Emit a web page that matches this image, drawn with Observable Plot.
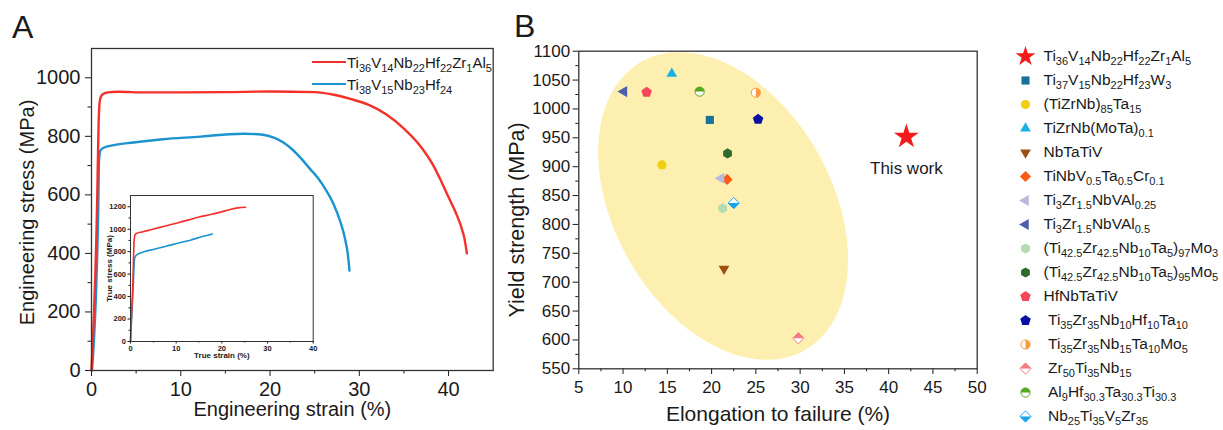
<!DOCTYPE html>
<html>
<head>
<meta charset="utf-8">
<script src="https://cdn.jsdelivr.net/npm/d3@7"></script>
<script src="https://cdn.jsdelivr.net/npm/@observablehq/plot@0.6"></script>
<style>
html,body{margin:0;padding:0;background:#fff;}
#wrap{position:relative;width:1223px;height:430px;overflow:hidden;font-family:"Liberation Sans",Arial,Helvetica,sans-serif;color:#1a1a1a;}
.panel{position:absolute;font-size:32px;line-height:32px;}
#legA{position:absolute;left:312px;top:51px;font-size:15px;color:#1a1a1a;}
#legA .row{height:22px;display:flex;align-items:center;white-space:nowrap;}
#legA .sw{display:inline-block;width:34px;height:0;border-top:2.4px solid;margin-right:1px;}
#legA sub{font-size:11px;vertical-align:-4px;line-height:0;}
</style>
</head>
<body>
<div id="wrap"></div>
<script>
const FONT = '"Liberation Sans", Arial, Helvetica, sans-serif';
const INK = "#1a1a1a";
const RED = "#f5302a";
const BLUE = "#1b93cf";

// ---------- Panel A: engineering stress-strain ----------
const seriesA = ["Ti_36V_14Nb_22Hf_22Zr_1Al_5", "Ti_38V_15Nb_23Hf_24"];
const redStrain = [0, 0.63, 0.8, 0.95, 1.2, 1.8, 3, 6, 10, 15, 20, 25, 27, 29, 31, 33, 35, 37, 38.3, 39.2, 40, 40.8, 41.4, 41.8, 42.05];
const redStress = [0, 570, 850, 925, 942, 950, 952, 950, 950, 951, 953, 951, 943, 928, 908, 875, 826, 760, 700, 645, 592, 540, 492, 448, 400];
const blueStrain = [0.05, 0.75, 0.85, 1.0, 1.3, 2.5, 4.7, 8, 12.2, 15, 17, 19, 20.5, 21.5, 22.5, 23.4, 24.5, 25.3, 26.2, 27.1, 27.8, 28.4, 28.7, 28.9];
const blueStress = [0, 540, 720, 752, 760, 770, 779, 790, 799, 806, 809, 806, 795, 779, 755, 727, 688, 660, 620, 570, 515, 450, 400, 341];
const xMajorA = [0, 10, 20, 30, 40];
const xMinorA = [5, 15, 25, 35];
const yMajorA = [0, 200, 400, 600, 800, 1000];
const yMinorA = [100, 300, 500, 700, 900];

// ---------- Inset: true stress-strain ----------
const redTrueStrain = [0, 0.5, 0.8, 1.0, 1.5, 2.5, 4.4, 7, 10.2, 13, 15, 17.5, 19.7, 22, 23.5, 25.2];
const redTrueStress = [0, 500, 900, 950, 965, 975, 995, 1022, 1055, 1085, 1108, 1130, 1152, 1178, 1190, 1195];
const blueTrueStrain = [0, 0.6, 0.9, 1.2, 2, 3, 5, 8, 10.5, 13.1, 15.5, 17.9];
const blueTrueStress = [0, 500, 740, 765, 785, 800, 820, 850, 877, 902, 932, 958];
const xMajorI = [0, 10, 20, 30, 40];
const xMinorI = [5, 15, 25, 35];
const yMajorI = [0, 200, 400, 600, 800, 1000, 1200];
const yMinorI = [100, 300, 500, 700, 900, 1100];

// ---------- Panel B: yield strength vs elongation ----------
const alloys = [
  "Ti_36V_14Nb_22Hf_22Zr_1Al_5", "Ti_37V_15Nb_22Hf_23W_3", "(TiZrNb)_85Ta_15", "TiZrNb(MoTa)_0.1",
  "NbTaTiV", "TiNbV_0.5Ta_0.5Cr_0.1", "Ti_3Zr_1.5NbVAl_0.25", "Ti_3Zr_1.5NbVAl_0.5",
  "(Ti_42.5Zr_42.5Nb_10Ta_5)_97Mo_3", "(Ti_42.5Zr_42.5Nb_10Ta_5)_95Mo_5", "HfNbTaTiV",
  " Ti_35Zr_35Nb_10Hf_10Ta_10", " Ti_35Zr_35Nb_15Ta_10Mo_5", " Zr_50Ti_35Nb_15",
  " Al_9Hf_30.3Ta_30.3Ti_30.3", " Nb_25Ti_35V_5Zr_35"
];
const elongation = [42, 19.8, 14.4, 15.5, 21.4, 21.75, 21.06, 10.1, 21.25, 21.8, 12.66, 25.25, 25.0, 29.8, 18.65, 22.5];
const yieldStrength = [952, 981, 903, 1061, 723, 878, 880, 1030, 828, 923, 1029, 982, 1028, 603, 1030, 837];
const xMajorB = [5, 10, 15, 20, 25, 30, 35, 40, 45, 50];
const xMinorB = [7.5, 12.5, 17.5, 22.5, 27.5, 32.5, 37.5, 42.5, 47.5];
const yMajorB = [550, 600, 650, 700, 750, 800, 850, 900, 950, 1000, 1050, 1100];
const yMinorB = [575, 625, 675, 725, 775, 825, 875, 925, 975, 1025, 1075];
// highlighted region (ellipse): centre and conjugate semi-axis vectors in data units
const regionCentre = [21.3, 832];
const regionAxisU = [9.2, -250];
const regionAxisV = [-10.7, -92];

// styles for panel B
const colorsB = ["#f41a1a", "#17719b", "#efcf0f", "#19b0e3", "#9c4f0f", "#fb5a14", "#b9b9de", "#4d5fac",
                 "#b4dcb2", "#2d6a2d", "#f4475c", "#0a10a6", "#fa9a3e", "#f27b82", "#55a71c", "#15a2ee"];
const shapesB = ["star", "square", "circle", "triUp", "triDown", "diamond", "triLeft", "triLeft",
                 "hexagon", "hexagon", "pentagon", "pentagon", "circle", "diamond", "circle", "diamond"];
const halvesB = [null, null, null, null, null, null, null, null, null, null, null, null,
                 "circleRight", "diamondTop", "circleTop", "diamondBottom"];
const sizesB = [7.8, 4.5, 4.6, 4.6, 4.6, 4.3, 4.8, 4.8, 4.6, 4.6, 4.6, 4.6, 4.6, 4.3, 4.6, 4.3];

// ---------- symbol shapes ----------
function regular(n, k, rot) {
  return d3.range(n).map(i => { const a = rot + 2 * Math.PI * i / n; return [k * Math.cos(a), k * Math.sin(a)]; });
}
function poly(pts) {
  return {draw(ctx, size) {
    const r = Math.sqrt(size / Math.PI);
    pts.forEach(([a, b], i) => i ? ctx.lineTo(a * r, b * r) : ctx.moveTo(a * r, b * r));
    ctx.closePath();
  }};
}
const SYM = {
  star: d3.symbolStar,
  square: poly([[-0.9, -0.9], [0.9, -0.9], [0.9, 0.9], [-0.9, 0.9]]),
  circle: {draw(ctx, size) { const r = Math.sqrt(size / Math.PI); ctx.moveTo(r, 0); ctx.arc(0, 0, r, 0, 2 * Math.PI); ctx.closePath(); }},
  triUp: poly(regular(3, 1.35, -Math.PI / 2)),
  triDown: poly(regular(3, 1.35, Math.PI / 2)),
  triLeft: poly(regular(3, 1.35, Math.PI)),
  pentagon: poly(regular(5, 1.2, -Math.PI / 2)),
  hexagon: poly(regular(6, 1.1, -Math.PI / 2)),
  diamond: poly(regular(4, 1.3, -Math.PI / 2)),
  diamondTop: poly([[-1.3, 0], [0, -1.3], [1.3, 0]]),
  diamondBottom: poly([[-1.3, 0], [0, 1.3], [1.3, 0]]),
  circleTop: {draw(ctx, size) { const r = Math.sqrt(size / Math.PI); ctx.moveTo(-r, 0); ctx.arc(0, 0, r, Math.PI, 2 * Math.PI); ctx.closePath(); }},
  circleRight: {draw(ctx, size) { const r = Math.sqrt(size / Math.PI); ctx.moveTo(0, -r); ctx.arc(0, 0, r, -Math.PI / 2, Math.PI / 2); ctx.closePath(); }}
};

const wrap = document.getElementById("wrap");
function place(el, left, top) {
  el.style.position = "absolute"; el.style.left = left + "px"; el.style.top = top + "px";
  wrap.appendChild(el);
}
const num = d => `${d}`;
const blank = () => "";
function subscriptify(svg, subSize, shift, indent) {
  svg.querySelectorAll("text").forEach(t => {
    const s = t.textContent;
    if (!s.includes("_")) return;
    const ind = /^\s/.test(s);
    const parts = s.trim().split(/_([\d.]+)/);
    t.textContent = "";
    let sub = false;
    parts.forEach((p, k) => {
      if (p === "") return;
      const isSub = k % 2 === 1;
      const ts = document.createElementNS("http://www.w3.org/2000/svg", "tspan");
      ts.textContent = p;
      if (isSub !== sub) { ts.setAttribute("dy", isSub ? shift : -shift); sub = isSub; }
      if (isSub) ts.setAttribute("font-size", subSize);
      if (ind && !t.firstChild) ts.setAttribute("dx", indent);
      t.appendChild(ts);
    });
  });
}

// ---------- Panel A plot ----------
const redEng = redStrain.map((x, i) => ({x, y: redStress[i]}));
const blueEng = blueStrain.map((x, i) => ({x, y: blueStress[i]}));
const chartA = Plot.plot({
  width: 500, height: 430,
  marginLeft: 91, marginRight: 7.3, marginTop: 48, marginBottom: 60,
  x: {domain: [0, 45]}, y: {domain: [0, 1100]},
  style: {fontFamily: FONT, fontSize: "20px", color: INK, background: "transparent", overflow: "visible"},
  marks: [
    Plot.line(blueEng, {x: "x", y: "y", stroke: BLUE, strokeWidth: 2.4, curve: "monotone-x"}),
    Plot.line(redEng, {x: "x", y: "y", stroke: RED, strokeWidth: 2.4, curve: "monotone-x"}),
    Plot.axisX({ticks: xMajorA, tickSize: 6, tickPadding: 5, tickFormat: num, label: null, fontSize: 20}),
    Plot.axisX({ticks: xMinorA, tickSize: 3.5, tickFormat: blank, label: null}),
    Plot.axisY({ticks: yMajorA, tickSize: 6, tickPadding: 5, tickFormat: num, label: null, fontSize: 20}),
    Plot.axisY({ticks: yMinorA, tickSize: 3.5, tickFormat: blank, label: null}),
    Plot.frame({stroke: "#333", strokeWidth: 1.3}),
    Plot.text(["Engineering strain (%)"], {text: d => d, frameAnchor: "bottom", textAnchor: "middle", dy: 45, lineAnchor: "bottom", fontSize: 20}),
    Plot.text(["Engineering stress (MPa)"], {text: d => d, frameAnchor: "left", textAnchor: "middle", rotate: -90, dx: -58, dy: 3, lineAnchor: "bottom", fontSize: 20})
  ]
});
place(chartA, 0, 0);

// ---------- Inset plot ----------
const redTrue = redTrueStrain.map((x, i) => ({x, y: redTrueStress[i]}));
const blueTrue = blueTrueStrain.map((x, i) => ({x, y: blueTrueStress[i]}));
const inset = Plot.plot({
  width: 225, height: 185,
  marginLeft: 30, marginRight: 12.3, marginTop: 15, marginBottom: 24,
  x: {domain: [0, 40]}, y: {domain: [0, 1300]},
  style: {fontFamily: FONT, fontSize: "7.5px", fontWeight: "bold", color: INK, background: "transparent", overflow: "visible"},
  marks: [
    Plot.line(blueTrue, {x: "x", y: "y", stroke: BLUE, strokeWidth: 1.6, curve: "monotone-x"}),
    Plot.line(redTrue, {x: "x", y: "y", stroke: RED, strokeWidth: 1.6, curve: "monotone-x"}),
    Plot.axisX({ticks: xMajorI, tickSize: 2.5, tickPadding: 2, tickFormat: num, label: null, fontSize: 7.5, fontWeight: "bold"}),
    Plot.axisX({ticks: xMinorI, tickSize: 1.5, tickFormat: blank, label: null}),
    Plot.axisY({ticks: yMajorI, tickSize: 2.5, tickPadding: 2, tickFormat: num, label: null, fontSize: 7.5, fontWeight: "bold"}),
    Plot.axisY({ticks: yMinorI, tickSize: 1.5, tickFormat: blank, label: null}),
    Plot.frame({stroke: "#333", strokeWidth: 1}),
    Plot.text(["True strain (%)"], {text: d => d, frameAnchor: "bottom", textAnchor: "middle", dy: 16.5, lineAnchor: "bottom", fontSize: 8, fontWeight: "bold"}),
    Plot.text(["True stress (MPa)"], {text: d => d, frameAnchor: "left", textAnchor: "middle", rotate: -90, dx: -18.5, lineAnchor: "bottom", fontSize: 8, fontWeight: "bold"})
  ]
});
place(inset, 100, 180);

// ---------- Panel A legend (HTML) ----------
const legA = document.createElement("div");
legA.id = "legA";
[RED, BLUE].forEach((c, i) => {
  const row = document.createElement("div");
  row.className = "row";
  row.innerHTML = `<span class="sw" style="border-color:${c}"></span><span>${seriesA[i].replace(/_([\d.]+)/g, "<sub>$1</sub>")}</span>`;
  legA.appendChild(row);
});
wrap.appendChild(legA);

// ---------- Panel B plot ----------
const region = d3.range(0, 360, 3).map(deg => {
  const t = deg * Math.PI / 180;
  return {
    x: regionCentre[0] + regionAxisU[0] * Math.cos(t) + regionAxisV[0] * Math.sin(t),
    y: regionCentre[1] + regionAxisU[1] * Math.cos(t) + regionAxisV[1] * Math.sin(t)
  };
});
const idx = d3.range(alloys.length);
const pointMarks = [];
idx.forEach(i => {
  const half = halvesB[i];
  pointMarks.push(Plot.dot([i], {
    x: j => elongation[j], y: j => yieldStrength[j], symbol: SYM[shapesB[i]], r: sizesB[i],
    fill: half ? "white" : colorsB[i], stroke: half ? colorsB[i] : "none", strokeWidth: 1
  }));
  if (half) pointMarks.push(Plot.dot([i], {
    x: j => elongation[j], y: j => yieldStrength[j], symbol: SYM[half], r: sizesB[i], fill: colorsB[i], stroke: "none"
  }));
});
const chartB = Plot.plot({
  width: 510, height: 430,
  marginLeft: 83.3, marginRight: 28.3, marginTop: 50.7, marginBottom: 61.7,
  x: {domain: [5, 50]}, y: {domain: [550, 1100]},
  style: {fontFamily: FONT, fontSize: "17px", color: INK, background: "transparent", overflow: "visible"},
  marks: [
    Plot.line(region, {x: "x", y: "y", fill: "#fdefb0", stroke: "none", curve: "linear-closed", clip: true}),
    ...pointMarks,
    Plot.text([0], {x: j => elongation[j], y: j => yieldStrength[j], text: () => "This work", dy: 37, lineAnchor: "bottom", fontSize: 17}),
    Plot.axisX({ticks: xMajorB, tickSize: 5.7, tickPadding: 6, tickFormat: num, label: null, fontSize: 17}),
    Plot.axisX({ticks: xMinorB, tickSize: 3, tickFormat: blank, label: null}),
    Plot.axisY({ticks: yMajorB, tickSize: 5.7, tickPadding: 3, tickFormat: num, label: null, fontSize: 17}),
    Plot.axisY({ticks: yMinorB, tickSize: 3, tickFormat: blank, label: null}),
    Plot.frame({stroke: "#333", strokeWidth: 1.3}),
    Plot.text(["Elongation to failure (%)"], {text: d => d, frameAnchor: "bottom", textAnchor: "middle", dy: 52.4, lineAnchor: "bottom", fontSize: 21}),
    Plot.text(["Yield strength (MPa)"], {text: d => d, frameAnchor: "left", textAnchor: "middle", rotate: -90, dx: -55.3, dy: 10, lineAnchor: "bottom", fontSize: 21.5})
  ]
});
place(chartB, 495, 0);

// ---------- Panel B legend ----------
const legendMarks = [];
idx.forEach(i => {
  const half = halvesB[i];
  const r = i === 0 ? 6.3 : sizesB[i];
  legendMarks.push(Plot.dot([i], {y: j => j, frameAnchor: "left", symbol: SYM[shapesB[i]], r,
    fill: half ? "white" : colorsB[i], stroke: half ? colorsB[i] : "none", strokeWidth: 1}));
  if (half) legendMarks.push(Plot.dot([i], {y: j => j, frameAnchor: "left", symbol: SYM[half], r, fill: colorsB[i], stroke: "none"}));
});
const legendB = Plot.plot({
  width: 218, height: 430,
  marginLeft: 20, marginRight: 0, marginTop: 52.7, marginBottom: 10,
  y: {type: "point", domain: idx, padding: 0, axis: null},
  style: {fontFamily: FONT, fontSize: "15.5px", color: INK, background: "transparent", overflow: "visible"},
  marks: [
    ...legendMarks,
    Plot.text(idx, {y: j => j, text: j => alloys[j], frameAnchor: "left", dx: 18, textAnchor: "start", fontSize: 15.5})
  ]
});
subscriptify(legendB, 11, 4, 4.5);
place(legendB, 1005, 0);

// ---------- panel letters ----------
[["A", 12, 10.5], ["B", 514, 10]].forEach(([s, l, t]) => {
  const d = document.createElement("div");
  d.className = "panel"; d.textContent = s; d.style.left = l + "px"; d.style.top = t + "px";
  wrap.appendChild(d);
});
</script>
</body>
</html>
